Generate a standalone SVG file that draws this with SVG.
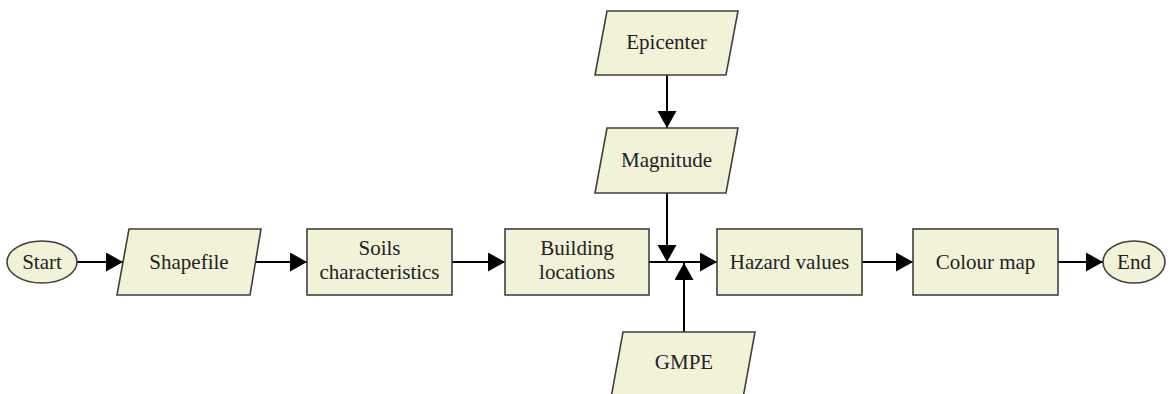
<svg xmlns="http://www.w3.org/2000/svg" width="1169" height="394" viewBox="0 0 1169 394">
<style>
.n{fill:#f2f2d9;stroke:#404040;stroke-width:1.6}
.t{font-family:"Liberation Serif","Times New Roman",serif;font-size:21px;fill:#222;text-anchor:middle}
.c{stroke:#000;stroke-width:2;fill:none;marker-end:url(#ah)}
</style>
<defs>
<marker id="ah" markerUnits="userSpaceOnUse" markerWidth="18" markerHeight="20" refX="17" refY="9.5" orient="auto">
<path d="M0,0 L17,9.5 L0,19 z" fill="#000"/>
</marker>
</defs>
<rect width="1169" height="394" fill="#fff"/>
<g id="connectors">
<line class="c" x1="77" y1="262" x2="123" y2="262"/>
<line class="c" x1="256" y1="262" x2="307" y2="262"/>
<line class="c" x1="452" y1="262" x2="505" y2="262"/>
<line class="c" x1="649" y1="262" x2="717" y2="262"/>
<line class="c" x1="862" y1="262" x2="913" y2="262"/>
<line class="c" x1="1058" y1="262" x2="1103" y2="262"/>
<line class="c" x1="667" y1="75" x2="667" y2="128"/>
<line class="c" x1="667" y1="193" x2="667" y2="262"/>
<line class="c" x1="684" y1="332" x2="684" y2="263"/>
</g>
<g id="start">
<ellipse class="n" cx="42" cy="262" rx="35" ry="21"/>
<text class="t" x="42" y="269">Start</text>
</g>
<g id="shapefile">
<polygon class="n" points="129,229 261,229 250,295 117,295"/>
<text class="t" x="189" y="269">Shapefile</text>
</g>
<g id="soils">
<rect class="n" x="307" y="229" width="145" height="66"/>
<text class="t" x="379.5" y="255">Soils</text>
<text class="t" x="379.5" y="279">characteristics</text>
</g>
<g id="building">
<rect class="n" x="505" y="229" width="144" height="66"/>
<text class="t" x="577" y="255">Building</text>
<text class="t" x="577" y="279">locations</text>
</g>
<g id="epicenter">
<polygon class="n" points="607,11 738,11 726,75 595,75"/>
<text class="t" x="666.5" y="49">Epicenter</text>
</g>
<g id="magnitude">
<polygon class="n" points="607,128 738,128 726,193 595,193"/>
<text class="t" x="666.5" y="167">Magnitude</text>
</g>
<g id="gmpe">
<polygon class="n" points="623,332 755,332 743,398 611,398"/>
<text class="t" x="684" y="369">GMPE</text>
</g>
<g id="hazard">
<rect class="n" x="717" y="229" width="145" height="66"/>
<text class="t" x="789.5" y="269">Hazard values</text>
</g>
<g id="colour">
<rect class="n" x="913" y="229" width="145" height="66"/>
<text class="t" x="985.5" y="269">Colour map</text>
</g>
<g id="end">
<ellipse class="n" cx="1134" cy="262" rx="31" ry="21"/>
<text class="t" x="1134" y="269">End</text>
</g>
</svg>
